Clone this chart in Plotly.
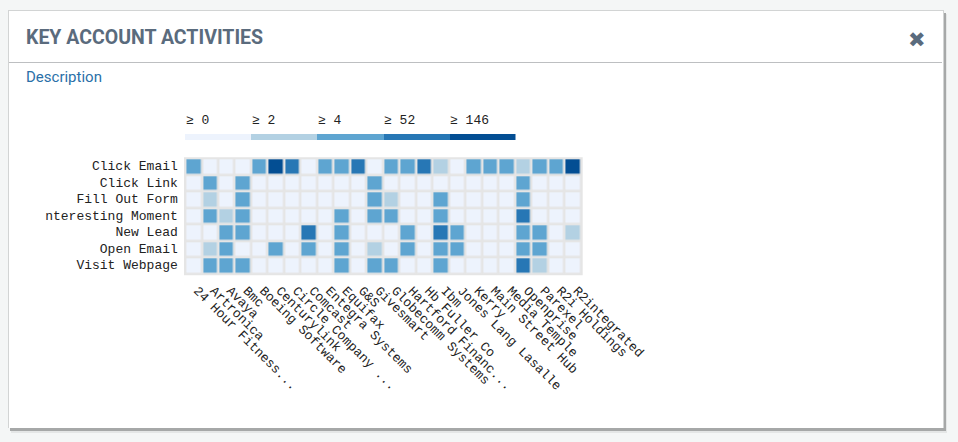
import numpy as np
import plotly.graph_objects as go

accounts = ['24 Hour Fitness...', 'Artronica', 'Avaya', 'Bmc', 'Boeing Software', 'Centurylink',
            'Circle Company ...', 'Comcast', 'Entegra Systems', 'Equifax', 'G&S', 'Givesmart',
            'Globecomm Systems', 'Hartford Financ...', 'Hb Fuller Co', 'Ibm', 'Jones Lang Lasalle',
            'Kerry', 'Main Street Hub', 'Media Temple', 'Openprise', 'Parexel', 'R2i Holdings',
            'R2integrated']
activities = ['Click Email', 'Click Link', 'Fill Out Form', 'nteresting Moment', 'New Lead',
              'Open Email', 'Visit Webpage']

# estimated counts, only the threshold bucket can be read from the picture
click_email = [20, 1, 1, 1, 18, 190, 90, 1, 22, 15, 70, 1, 25, 20, 85, 3, 1, 14, 12, 16, 3, 20, 14, 210]
click_link = [0, 8, 0, 6, 0, 0, 0, 0, 0, 0, 0, 6, 0, 0, 0, 0, 0, 0, 0, 0, 8, 0, 0, 0]
fill_out_form = [0, 2, 0, 5, 0, 0, 0, 0, 0, 0, 0, 6, 3, 0, 0, 5, 0, 0, 0, 0, 7, 0, 0, 0]
interesting_moment = [0, 9, 3, 7, 0, 0, 0, 0, 0, 5, 0, 6, 5, 0, 0, 6, 0, 0, 0, 0, 60, 0, 0, 0]
new_lead = [0, 0, 6, 8, 0, 0, 0, 55, 0, 6, 0, 0, 0, 5, 0, 60, 7, 0, 0, 0, 9, 6, 0, 2]
open_email = [0, 2, 7, 0, 0, 5, 0, 6, 0, 8, 0, 3, 0, 6, 0, 9, 5, 0, 0, 0, 7, 6, 0, 0]
visit_webpage = [0, 10, 7, 9, 0, 0, 0, 0, 0, 6, 0, 7, 5, 0, 0, 6, 0, 0, 0, 0, 75, 3, 0, 0]

thresholds = [0, 2, 4, 52, 146]
colors = ['#edf3fd', '#b3d1e3', '#5ea5d1', '#2777b5', '#034e93']

W = 958
H = 442
counts = [click_email, click_link, fill_out_form, interesting_moment, new_lead, open_email, visit_webpage]
levels = np.digitize(np.array(counts), thresholds) - 1

scale = []
for i, c in enumerate(colors):
    scale.append([i / 5, c])
    scale.append([(i + 1) / 5, c])


def px(v):
    return v / W


def py(v):
    return 1 - v / H


def rect(x0, y0, x1, y1, fill):
    return dict(type='rect', xref='paper', yref='paper', x0=px(x0), x1=px(x1), y0=py(y0), y1=py(y1),
                fillcolor=fill, line_width=0, layer='below')


fig = go.Figure()
fig.add_trace(go.Heatmap(z=levels, x=accounts, y=activities, customdata=np.array(counts),
                         colorscale=scale, zmin=0, zmax=5, xgap=2.6, ygap=2.6, showscale=False,
                         hovertemplate='%{y} / %{x}: %{customdata}<extra></extra>'))
fig.add_trace(go.Heatmap(z=[list(range(5))], xaxis='x2', yaxis='y2', colorscale=scale, zmin=0, zmax=5,
                         showscale=False, hoverinfo='skip'))

shapes = [
    rect(11, 14, 947, 433, '#e4e6e6'),
    rect(10, 13, 946, 431, '#a6a8a8'),
    rect(8, 10, 944, 428, '#d2d4d4'),
    rect(9, 11, 943, 428, '#ffffff'),
    rect(9, 62, 942, 63, '#bdbfc1'),
    rect(184, 157.3, 582.7, 275.2, '#e5e5e5'),
]

mono = 'Liberation Mono'
annotations = [
    dict(text='<b>KEY ACCOUNT ACTIVITIES</b>', x=px(24), y=py(37), xref='paper', yref='paper', xanchor='left',
         yanchor='middle', showarrow=False, font=dict(family='Roboto', size=19.5, color='#5a6b7d')),
    dict(text='Description', x=px(24), y=py(77), xref='paper', yref='paper', xanchor='left',
         yanchor='middle', showarrow=False, font=dict(family='Roboto', size=15, color='#2a70a8')),
    dict(text='\u2716', x=px(917), y=py(39.5), xref='paper', yref='paper', xanchor='center',
         yanchor='middle', showarrow=False, font=dict(family='DejaVu Sans', size=21, color='#5a6b7d')),
]
for i, t in enumerate(thresholds):
    annotations.append(dict(text='\u2265 ' + str(t), x=i - 0.5, y=py(120.5), xref='x2', yref='paper', xanchor='left',
                            yanchor='middle', showarrow=False, xshift=-1, font=dict(family=mono, size=13, color='#222222')))

fig.update_layout(
    width=W, height=H, margin=dict(l=0, r=0, t=0, b=0), showlegend=False,
    paper_bgcolor='#f4f6f6', plot_bgcolor='rgba(0,0,0,0)',
    shapes=shapes, annotations=annotations,
    xaxis=dict(domain=[px(185.4), px(581.3)], tickangle=45, ticks='outside', ticklen=3, ticklabelshift=4,
               tickcolor='rgba(0,0,0,0)', tickfont=dict(family=mono, size=13, color='#222222'), showgrid=False,
               zeroline=False, automargin=False, tickmode='array', tickvals=accounts, ticktext=accounts),
    yaxis=dict(domain=[py(273.8), py(158.3)], autorange='reversed', ticks='outside', ticklen=4, ticklabelshift=1,
               tickcolor='rgba(0,0,0,0)', tickfont=dict(family=mono, size=13, color='#222222'),
               showgrid=False, zeroline=False, automargin=False),
    xaxis2=dict(domain=[px(185), px(515.5)], anchor='y2', visible=False, range=[-0.5, 4.5]),
    yaxis2=dict(domain=[py(140), py(134)], anchor='x2', visible=False, range=[-0.5, 0.5]),
)

fig.write_html("out.html", config=dict(displayModeBar=False),
               post_script="document.body.style.margin='0';document.body.style.overflow='hidden';")
